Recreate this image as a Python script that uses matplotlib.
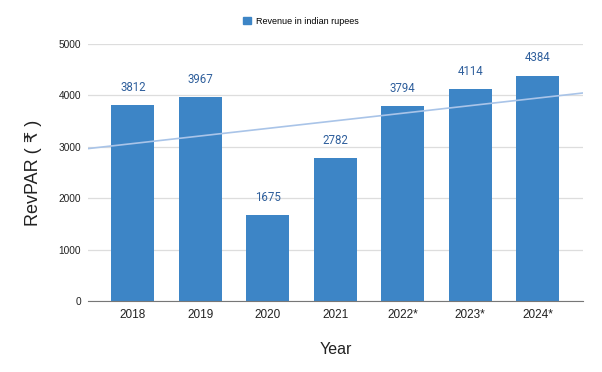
import numpy as np
import matplotlib.pyplot as plt
from matplotlib.patches import Patch

plt.rcParams['font.family'] = ['Liberation Sans', 'DejaVu Sans']

years = ['2018', '2019', '2020', '2021', '2022*', '2023*', '2024*']
revenue = [3812, 3967, 1675, 2782, 3794, 4114, 4384]

BAR_COLOR = '#3d85c6'
TREND_COLOR = '#a9c4e8'
LABEL_COLOR = '#2f5f9c'

fig = plt.figure(figsize=(6.02, 3.72), dpi=100)
ax = fig.add_axes([0.146, 0.191, 0.822, 0.691])

x = np.arange(len(years))
ax.bar(x, revenue, width=0.64, color=BAR_COLOR, zorder=3)

for xi, v in zip(x, revenue):
    ax.annotate(str(v), (xi, v), xytext=(0, 8), textcoords='offset points',
                ha='center', va='bottom', fontsize=8.3, color=LABEL_COLOR,
                family=['Roboto', 'DejaVu Sans'])

# linear trendline
xlim = (-0.667, len(years) - 0.333)
k, b = np.polyfit(x, revenue, 1)
xt = np.array(xlim)
ax.plot(xt, k * xt + b, color=TREND_COLOR, lw=1.2, zorder=4)

ax.set_xlim(*xlim)
ax.set_ylim(0, 5000)
ax.set_yticks(range(0, 5001, 1000))
ax.set_xticks(x)
ax.set_xticklabels(years)
ax.tick_params(axis='both', length=0, colors='#222222')
ax.tick_params(axis='y', pad=5, labelsize=7.3)
ax.tick_params(axis='x', pad=6, labelsize=8.5)
ax.grid(axis='y', color='#dddddd', lw=0.9, zorder=0)
for s in ['top', 'right', 'left']:
    ax.spines[s].set_visible(False)
ax.spines['bottom'].set_color('#777777')
ax.spines['bottom'].set_zorder(5)

ax.set_xlabel('Year', fontsize=11.5, labelpad=15, color='#222222')
ax.set_ylabel('RevPAR ( \u20b9 )', fontsize=13, labelpad=12, color='#222222')

fig.legend(handles=[Patch(color=BAR_COLOR, label='Revenue in indian rupees')],
           loc='center', bbox_to_anchor=(0.5, 0.943), frameon=False,
           fontsize=6.5, handlelength=0.8, handleheight=0.8, handletextpad=0.6)

fig.savefig('out.png', dpi=100)
